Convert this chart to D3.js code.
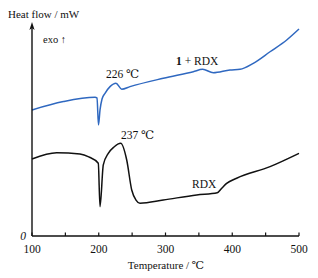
<!DOCTYPE html>
<html>
<head>
<meta charset="utf-8">
<script src="https://cdn.jsdelivr.net/npm/d3@7"></script>
<style>
  html, body { margin: 0; padding: 0; background: #fff; }
  svg text { font-family: "Liberation Serif", "DejaVu Serif", serif; fill: #111; }
</style>
</head>
<body>
<svg id="chart" width="318" height="278"></svg>
<script>
// 温度 (℃)
const mixT = [100, 147, 194.4, 197.4, 199.6, 201.9, 204.9, 209.4, 216.9, 225.8, 234.4, 246.8, 296.7, 341.6, 355.7, 371.6, 396.6, 411.6, 431.5, 456.6, 481.6, 500];
// 1 + RDX 热流 (任意单位)
const mixV = [58.9, 62.8, 64.8, 64.5, 51.9, 58.9, 64.0, 66.7, 69.8, 71.4, 68.6, 69.8, 73.7, 76.8, 77.9, 76.3, 77.6, 77.9, 80.7, 86.1, 91.6, 96.7];
const rdxT = [100, 137, 171.9, 185, 199.3, 201.9, 206.8, 214.3, 222.8, 232.9, 241.9, 249.4, 255.8, 261.8, 296.7, 346.7, 377.6, 384.2, 391.6, 406.6, 456.6, 500];
// RDX 热流
const rdxV = [36.0, 38.9, 38.3, 37.0, 34.0, 13.7, 33.2, 38.6, 41.6, 43.3, 35.5, 21.5, 16.8, 15.3, 16.8, 19.2, 20.2, 22.3, 24.6, 27.0, 32.4, 38.6];
const xTicks = [100, 200, 300, 400, 500];
const xMinor = [150, 250, 350, 450];

const svg = d3.select('#chart');
const x = d3.scaleLinear().domain([100, 500]).range([32, 299]);
const y = d3.scaleLinear().domain([0, 100]).range([236, 22]);

const line = d3.line()
    .x(d => x(d[0]))
    .y(d => y(d[1]))
    .curve(d3.curveMonotoneX);

//曲线
svg.append('path')
    .attr('d', line(d3.zip(mixT, mixV)))
    .attr('fill', 'none').attr('stroke', '#2f68c0').attr('stroke-width', 1.5);
svg.append('path')
    .attr('d', line(d3.zip(rdxT, rdxV)))
    .attr('fill', 'none').attr('stroke', '#111').attr('stroke-width', 1.5);

//x轴
const xAxis = svg.append('g').attr('transform', `translate(0,${y(0)})`);
xAxis.append('line').attr('x1', x(100)).attr('x2', x(500))
    .attr('stroke', '#111').attr('stroke-width', 1.4);
xAxis.selectAll('.tk').data(xTicks.concat(xMinor)).join('line')
    .attr('x1', d => x(d)).attr('x2', d => x(d))
    .attr('y1', 0).attr('y2', -3.5)
    .attr('stroke', '#111').attr('stroke-width', 1.2);
xAxis.selectAll('.lb').data(xTicks).join('text')
    .attr('x', d => x(d)).attr('y', 17)
    .attr('text-anchor', 'middle').attr('font-size', 11.5)
    .text(d => d);

//y轴 + 箭头
svg.append('line').attr('x1', x(100)).attr('x2', x(100))
    .attr('y1', y(0)).attr('y2', 27)
    .attr('stroke', '#111').attr('stroke-width', 1.4);
svg.append('path')
    .attr('d', `M${x(100)},22 L${x(100) - 2.6},30 L${x(100)},28 L${x(100) + 2.6},30 Z`)
    .attr('fill', '#111');

//文字
const label = (t, px, py, size, anchor = 'start') =>
    svg.append('text').attr('x', px).attr('y', py).attr('font-size', size)
        .attr('text-anchor', anchor).text(t);

label('Heat flow / mW', 8, 18, 11);
label('exo ↑', 43, 43, 10.5);
label('Temperature / ℃', 166, 269, 11, 'middle');
label('0', 26, 240, 11.5, 'end').attr('font-style', 'italic');
label('226 ℃', 106, 78, 11.5);
label('237 ℃', 121, 139, 11.5);
label('RDX', 192, 188, 11.5);
const t1 = svg.append('text').attr('x', 176).attr('y', 65).attr('font-size', 11.5);
t1.append('tspan').attr('font-weight', 'bold').text('1');
t1.append('tspan').text(' + RDX');
</script>
</body>
</html>
